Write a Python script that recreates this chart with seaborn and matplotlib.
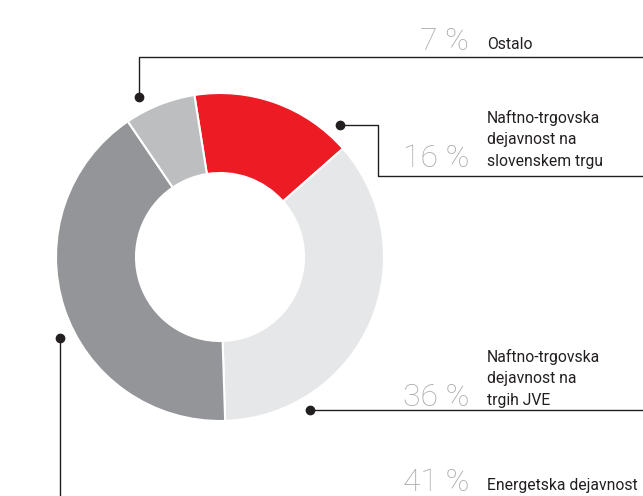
import numpy as np
import matplotlib.pyplot as plt
import seaborn as sns

# deleži dejavnosti (v smeri urinega kazalca od rdečega izseka)
labels = ['Naftno-trgovska\ndejavnost na\nslovenskem trgu',
          'Naftno-trgovska\ndejavnost na\ntrgih JVE',
          'Energetska dejavnost',
          'Ostalo']
shares = [16, 36, 41, 7]
colors = ['#ED1C24', '#E6E7E8', '#939598', '#BCBEC0']

sns.set_theme(style='white')
plt.rcParams['font.family'] = ['Roboto', 'DejaVu Sans']

W, H = 643, 496
fig = plt.figure(figsize=(W / 100, H / 100), dpi=100)
ax = fig.add_axes([0, 0, 1, 1])

def py(y):
    # piksli od zgoraj -> koordinate osi
    return H - y

cx, cy, r = 220, py(257), 164
ax.pie(shares, colors=colors, startangle=99, counterclock=False,
       center=(cx, cy), radius=r, frame=True,
       wedgeprops=dict(width=80, edgecolor='white', linewidth=1.5))
ax.set_xlim(0, W)
ax.set_ylim(0, H)
ax.set_aspect('equal')
ax.axis('off')

lc = '#231F20'
lw = 1.0
# povezovalne črte
# Ostalo
ax.plot([139, 139, W], [py(97), py(57), py(57)], color=lc, lw=lw)
ax.plot(139, py(97), 'o', color=lc, ms=6)
# slovenski trg
ax.plot([340, 378, 378, W], [py(125), py(125), py(176), py(176)], color=lc, lw=lw)
ax.plot(340, py(125), 'o', color=lc, ms=6)
# trgi JVE
ax.plot([310, W], [py(410), py(410)], color=lc, lw=lw)
ax.plot(310, py(410), 'o', color=lc, ms=6)
# energetska
ax.plot([60, 60], [py(338), 0], color=lc, lw=lw)
ax.plot(60, py(338), 'o', color=lc, ms=6)

pct_color = '#A7A9AC'
# baseline odstotka in besedila za vsak izsek
pct_y = [py(167), py(406), py(491), py(50)]
txt_y = [py(166), py(405), py(490), py(49)]
for lab, s, yp, yt in zip(labels, shares, pct_y, txt_y):
    ax.text(469, yp, f'{s} %', ha='right', va='baseline', fontsize=23,
            color=pct_color, fontweight='light')
    ax.text(487, yt, lab, ha='left', va='baseline', fontsize=11.3,
            color='#231F20', linespacing=1.55)

plt.savefig('out.png', dpi=100)
